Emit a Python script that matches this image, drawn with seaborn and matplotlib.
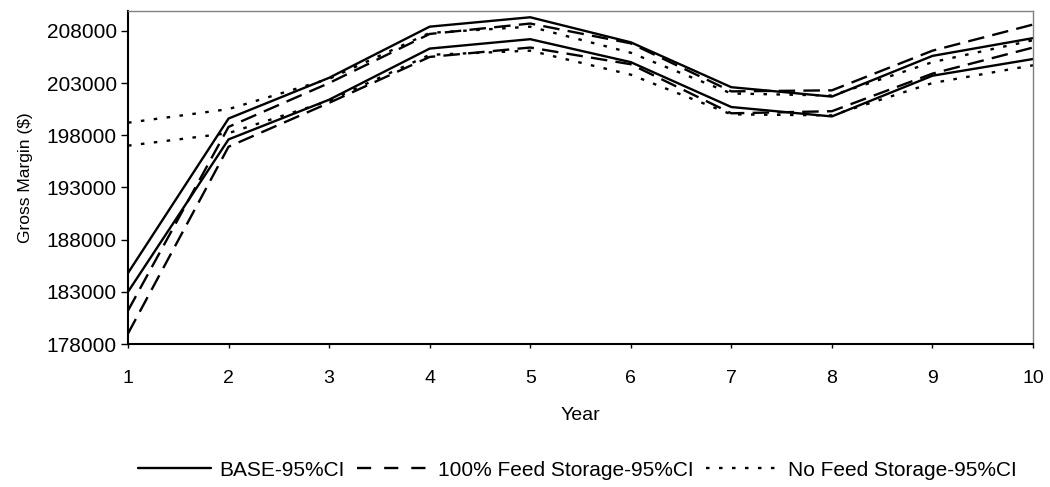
import matplotlib
matplotlib.use("Agg")
import matplotlib.pyplot as plt
import seaborn as sns
import pandas as pd
from matplotlib.lines import Line2D

years = [1, 2, 3, 4, 5, 6, 7, 8, 9, 10]
base_upper = [184800, 199600, 203500, 208400, 209300, 206900, 202600, 201700, 205600, 207300]
base_lower = [183000, 197600, 201400, 206300, 207200, 205000, 200700, 199800, 203700, 205300]
feed100_upper = [181200, 198800, 203000, 207700, 208700, 206800, 202200, 202300, 206100, 208600]
feed100_lower = [179000, 196900, 201100, 205500, 206400, 204800, 200100, 200300, 203900, 206400]
nofeed_upper = [199200, 200500, 203400, 207800, 208400, 205900, 202000, 201800, 205000, 207100]
nofeed_lower = [197000, 198200, 201300, 205700, 206100, 203800, 200000, 199900, 203000, 204700]

labels = ["BASE-95%CI", "100% Feed Storage-95%CI", "No Feed Storage-95%CI"]
yticks = [178000, 183000, 188000, 193000, 198000, 203000, 208000]

sns.set_theme(style="white")
plt.rcParams['font.family'] = ['Liberation Sans', 'DejaVu Sans']
plt.rcParams['text.color'] = 'black'
plt.rcParams['axes.labelcolor'] = 'black'

series = {
    ("base", "u"): base_upper, ("base", "l"): base_lower,
    ("feed", "u"): feed100_upper, ("feed", "l"): feed100_lower,
    ("nofeed", "u"): nofeed_upper, ("nofeed", "l"): nofeed_lower,
}
rows = []
for (sc, b), vals in series.items():
    for x, v in zip(years, vals):
        rows.append({"Year": x, "Value": v, "scenario": sc, "bound": b})
df = pd.DataFrame(rows)

DASH = (7, 3.5)
DOT = (1.5, 4)
dash_map = {"feed": DASH, "nofeed": DOT}
LW = 1.7

fig = plt.figure(figsize=(10.5, 4.87), dpi=100)
ax = fig.add_axes([128/1050, 1 - 344/487, (1033-128)/1050, (344-11)/487])

for sc in ["base", "feed", "nofeed"]:
    for b in ["u", "l"]:
        sub = df[(df.scenario == sc) & (df.bound == b)]
        kw = {}
        if sc in dash_map:
            kw["dashes"] = dash_map[sc]
        sns.lineplot(data=sub, x="Year", y="Value", ax=ax, color="black",
                     linewidth=LW, legend=False, **kw)

ax.set_xlim(1, 10)
ax.set_ylim(178000, 209900)
ax.set_xticks(years)
ax.set_yticks(yticks)
ax.set_yticklabels([str(t) for t in yticks])
ax.tick_params(axis="y", labelsize=15, colors="black", length=5, width=1,
               direction="out", left=True, pad=3)
ax.tick_params(axis="x", labelsize=14, colors="black", length=3, width=1,
               direction="out", bottom=True, pad=16)
ax.set_xlabel("Year", fontsize=14, labelpad=14)
ax.set_ylabel("Gross Margin ($)", fontsize=12.5, labelpad=10)

for s in ["left", "bottom"]:
    ax.spines[s].set_color("black")
    ax.spines[s].set_linewidth(1.5)
for s in ["top", "right"]:
    ax.spines[s].set_color("#808080")
    ax.spines[s].set_linewidth(1.0)

handles = [
    Line2D([], [], color="black", linewidth=LW, linestyle="-"),
    Line2D([], [], color="black", linewidth=LW, dashes=(6, 5.5)),
    Line2D([], [], color="black", linewidth=LW, dashes=DOT),
]
fig.legend(handles, labels, loc="center", bbox_to_anchor=(577/1050, 1 - 470/487),
           ncol=3, frameon=False, fontsize=15, handlelength=3.5, handletextpad=0.4,
           columnspacing=0.6)

fig.savefig("out.png", dpi=100)
